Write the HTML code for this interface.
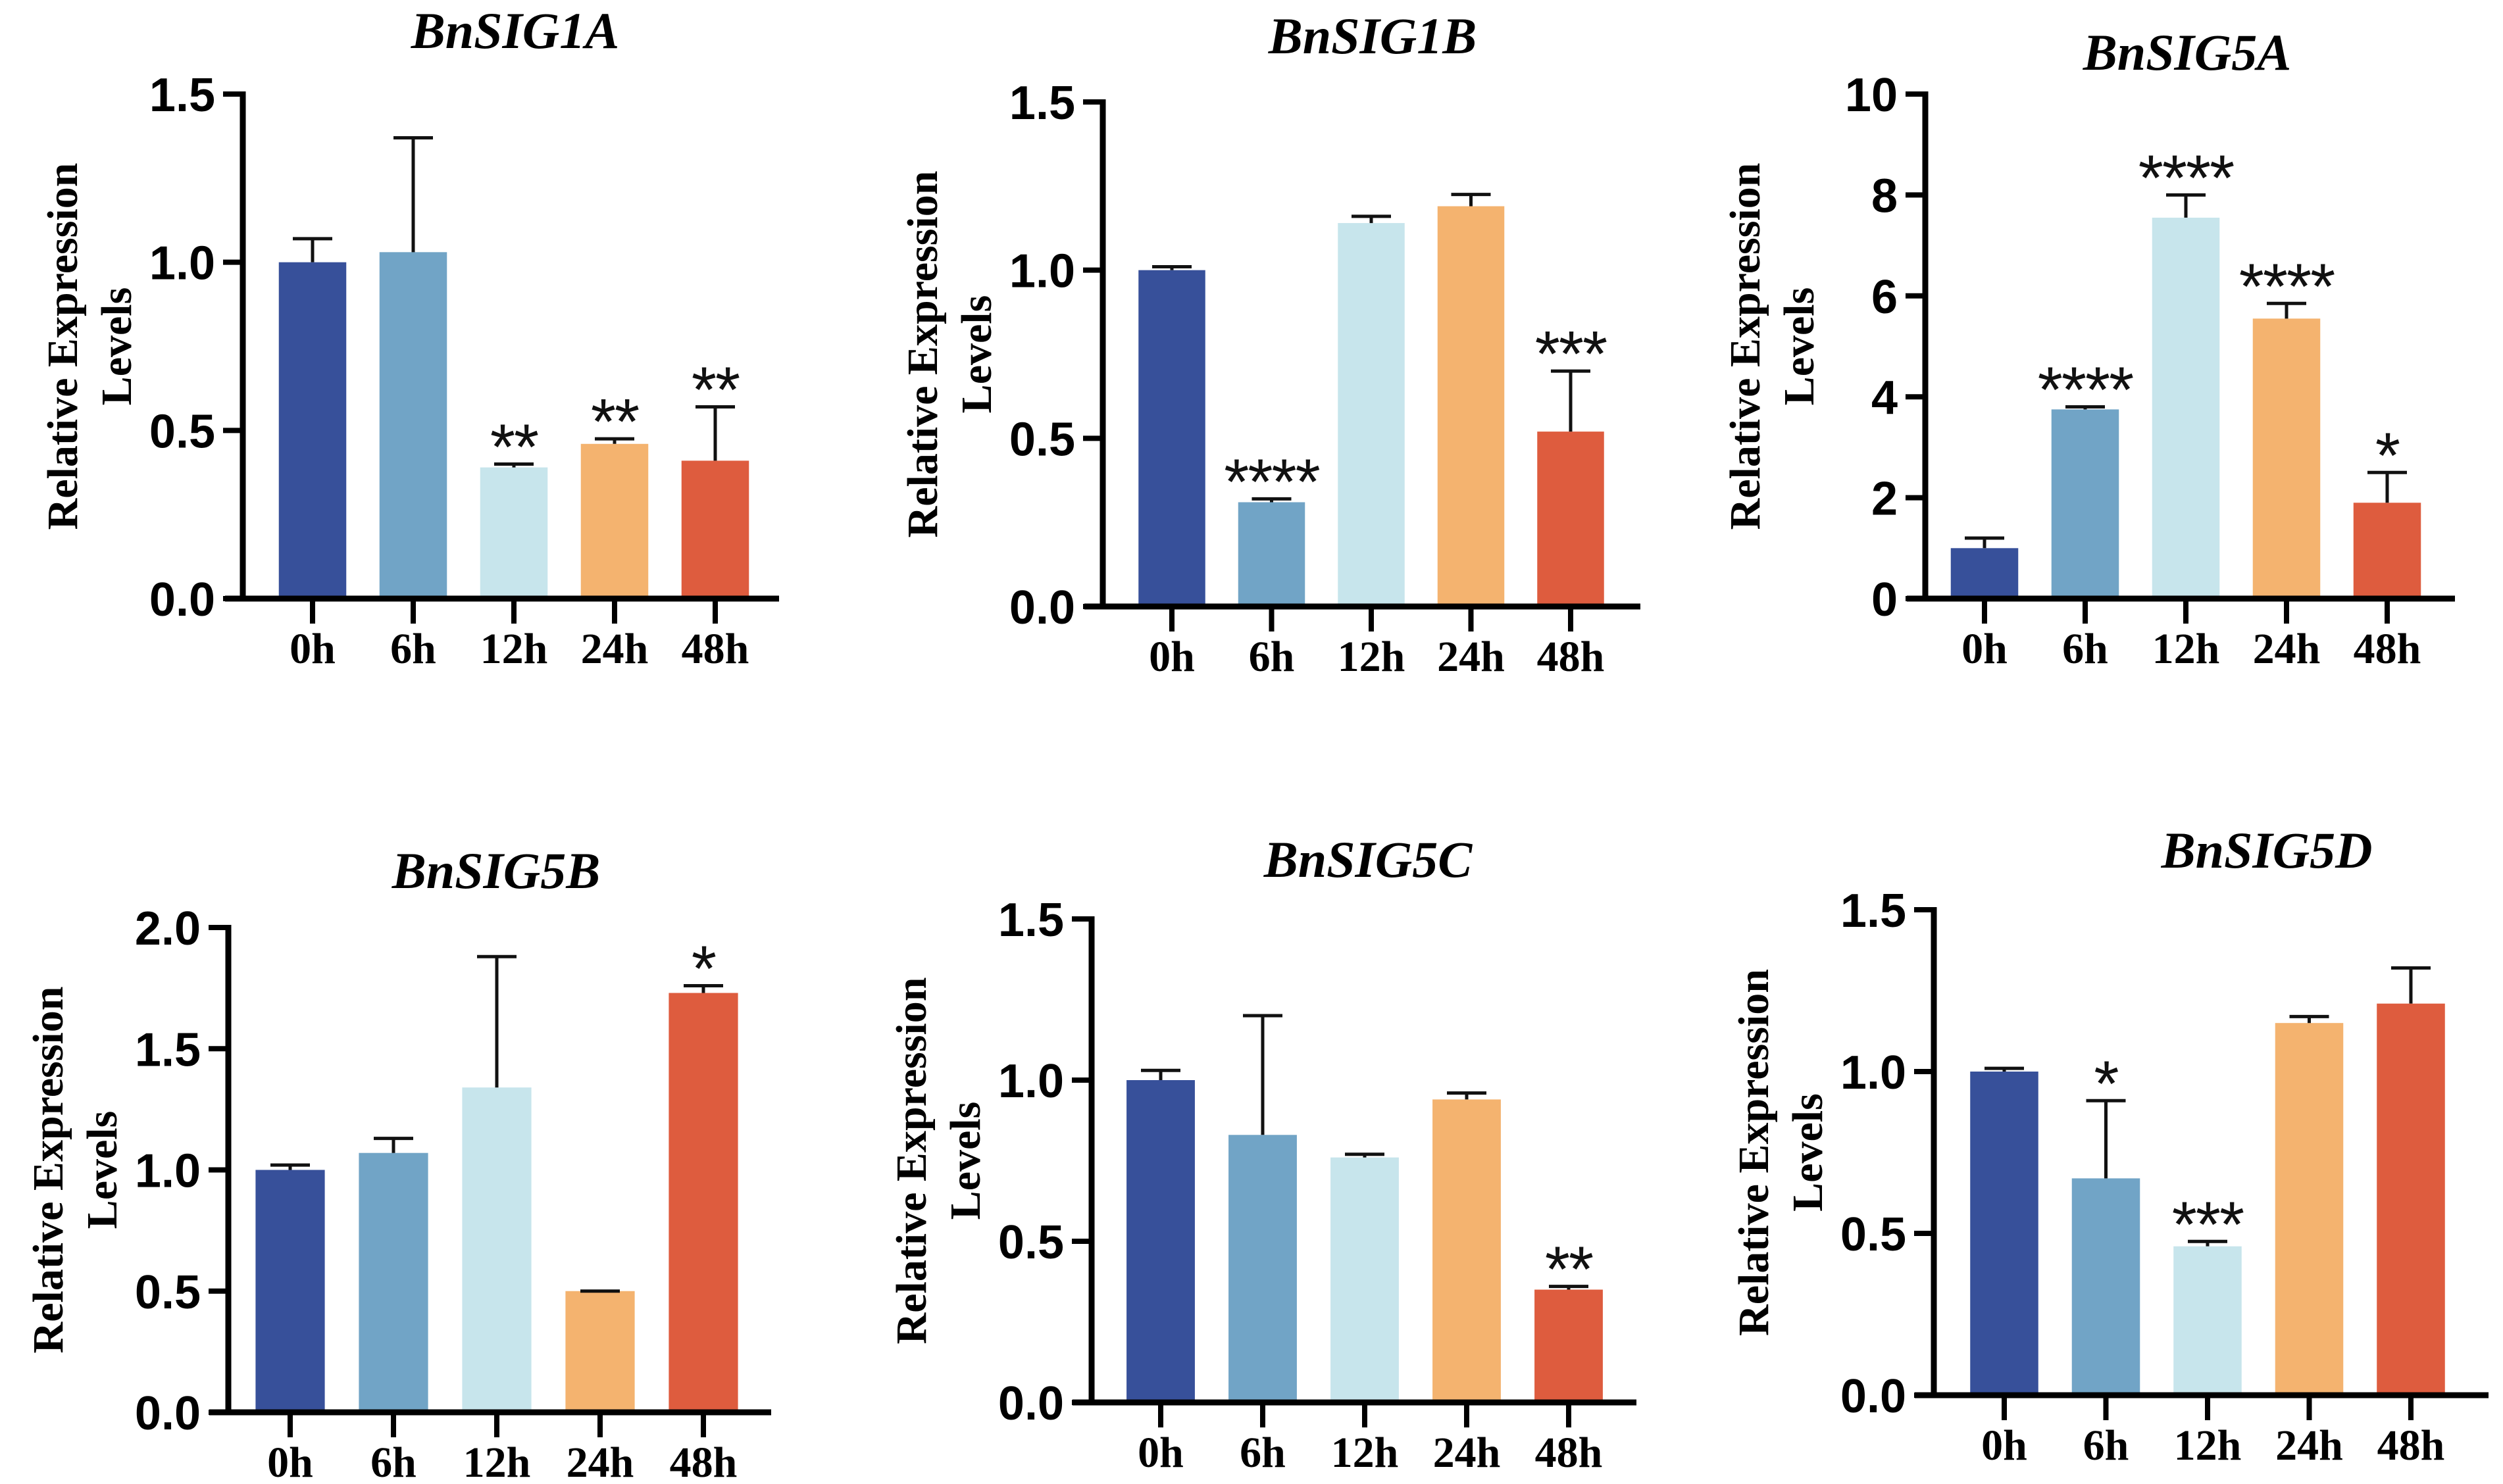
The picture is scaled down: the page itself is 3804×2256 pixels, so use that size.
<!DOCTYPE html>
<html><head><meta charset="utf-8"><style>
html,body{margin:0;padding:0;background:#fff;overflow:hidden;}
svg{display:block;}
</style></head><body>
<svg id="fig" xmlns="http://www.w3.org/2000/svg" width="3804" height="2256" viewBox="0 0 3804 2256"></svg>
<script>
const categories = ["0h","6h","12h","24h","48h"];
const colors = ["#37509a","#71a4c6","#c7e5ec","#f4b36f","#de5c3e"];
const titles = ["BnSIG1A","BnSIG1B","BnSIG5A","BnSIG5B","BnSIG5C","BnSIG5D"];
const means1A = [1.0,1.03,0.39,0.46,0.41];
const errTop1A = [1.07,1.37,0.40,0.475,0.57];
const stars1A = ["","","**","**","**"];
const means1B = [1.0,0.31,1.14,1.19,0.52];
const errTop1B = [1.01,0.32,1.16,1.225,0.70];
const stars1B = ["","****","","","***"];
const means5A = [1.0,3.75,7.55,5.55,1.9];
const errTop5A = [1.2,3.8,8.0,5.85,2.5];
const stars5A = ["","****","****","****","*"];
const means5B = [1.0,1.07,1.34,0.5,1.73];
const errTop5B = [1.02,1.13,1.88,0.5,1.76];
const stars5B = ["","","","","*"];
const means5C = [1.0,0.83,0.76,0.94,0.35];
const errTop5C = [1.03,1.2,0.77,0.96,0.36];
const stars5C = ["","","","","**"];
const means5D = [1.0,0.67,0.46,1.15,1.21];
const errTop5D = [1.01,0.91,0.475,1.17,1.32];
const stars5D = ["","*","***","",""];
const ticks15 = ["0.0","0.5","1.0","1.5"];
const ticks20 = ["0.0","0.5","1.0","1.5","2.0"];
const ticks10 = ["0","2","4","6","8","10"];

const layout = [
 {ax:369,y0:910,yTop:143,x0:475,step:153,xs:342,xe:1184,tx:783,ty:45,max:1.5},
 {ax:1676,y0:922,yTop:155,x0:1781,step:151.5,xs:1648,xe:2493,tx:2086,ty:53,max:1.5},
 {ax:2926,y0:910,yTop:143,x0:3016,step:153,xs:2898,xe:3731,tx:3324,ty:78,max:10},
 {ax:347,y0:2147,yTop:1410,x0:441,step:157,xs:318,xe:1172,tx:754,ty:1322,max:2},
 {ax:1659,y0:2132,yTop:1397,x0:1764,step:155,xs:1630,xe:2487,tx:2079,ty:1305,max:1.5},
 {ax:2939,y0:2121,yTop:1383,x0:3046,step:154.5,xs:2910,xe:3782,tx:3445,ty:1291,max:1.5}
];
const means = [means1A,means1B,means5A,means5B,means5C,means5D];
const errs = [errTop1A,errTop1B,errTop5A,errTop5B,errTop5C,errTop5D];
const stars = [stars1A,stars1B,stars5A,stars5B,stars5C,stars5D];
const tickSets = [ticks15,ticks15,ticks10,ticks20,ticks15,ticks15];

const NS="http://www.w3.org/2000/svg";
const svg=document.getElementById('fig');
function mk(tag,attrs,parent,text){const e=document.createElementNS(NS,tag);for(const k in attrs)e.setAttribute(k,attrs[k]);if(text!==undefined)e.textContent=text;parent.appendChild(e);return e;}

layout.forEach((L,p)=>{
  const g=mk('g',{},svg);
  
  
  const yS=v=>L.y0-(v/L.max)*(L.y0-L.yTop);
  const xS=i=>L.x0+i*L.step;
  const bw=L.step*0.67;
  const t=mk('text',{x:L.tx,y:L.ty+28,'text-anchor':'middle','font-family':'Liberation Serif, serif','font-weight':'bold','font-style':'italic','font-size':78,fill:'#000'},g,titles[p]);
  
  
  means[p].forEach((v,i)=>{
    const r=mk('rect',{x:xS(i)-bw/2,y:yS(v),width:bw,height:L.y0-yS(v),fill:colors[i]},g);
    
    
    const et=errs[p][i];
    const e=mk('path',{d:`M${xS(i)} ${yS(v)} V${yS(et)} M${xS(i)-30} ${yS(et)} H${xS(i)+30}`,stroke:'#111','stroke-width':5,fill:'none'},g);
    
    
    if(stars[p][i]){
      const s=mk('text',{x:xS(i),y:yS(et)+8,'text-anchor':'middle','font-family':'Liberation Sans, sans-serif','font-size':98,'letter-spacing':'-2',fill:'#111'},g,stars[p][i]);
      
      
    }
  });
  const ya=mk('line',{x1:L.ax,y1:L.yTop-4,x2:L.ax,y2:L.y0+4,stroke:'#000','stroke-width':9},g);
  
  
  const xa=mk('line',{x1:L.xs,y1:L.y0,x2:L.xe,y2:L.y0,stroke:'#000','stroke-width':9},g);
  
  
  tickSets[p].forEach(lab=>{
    const y=yS(parseFloat(lab));
    mk('line',{x1:L.ax-30,y1:y,x2:L.ax,y2:y,stroke:'#000','stroke-width':8},g);
    const tl=mk('text',{x:L.ax-42,y:y+26,'text-anchor':'end','font-family':'Liberation Sans, sans-serif','font-weight':'bold','font-size':72,fill:'#000'},g,lab);
    
    
  });
  categories.forEach((c,i)=>{
    mk('line',{x1:xS(i),y1:L.y0,x2:xS(i),y2:L.y0+38,stroke:'#000','stroke-width':8},g);
    const xl=mk('text',{x:xS(i),y:L.y0+98,'text-anchor':'middle','font-family':'Liberation Serif, serif','font-weight':'bold','font-size':66,fill:'#000'},g,c);
    
    
  });
  const cy=(L.y0+L.yTop)/2;
  const a1=mk('text',{x:0,y:0,'text-anchor':'middle','font-family':'Liberation Serif, serif','font-weight':'bold','font-size':66,fill:'#000',transform:`translate(${L.ax-252},${cy}) rotate(-90)`},g,'Relative Expression');
  
  
  const a2=mk('text',{x:0,y:0,'text-anchor':'middle','font-family':'Liberation Serif, serif','font-weight':'bold','font-size':66,fill:'#000',transform:`translate(${L.ax-170},${cy}) rotate(-90)`},g,'Levels');
  
  
});
</script>
</body></html>
